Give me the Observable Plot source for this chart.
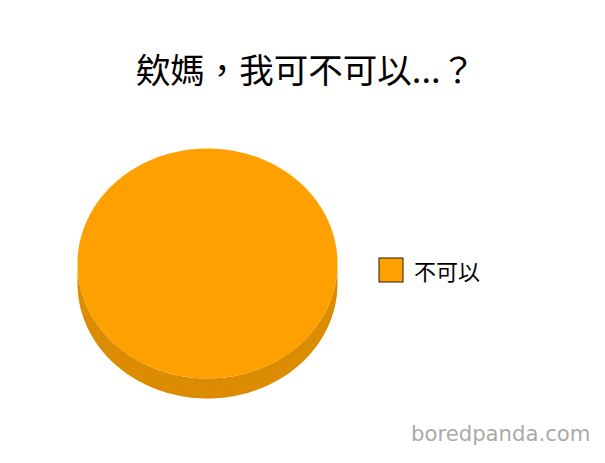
<!DOCTYPE html>
<html>
<head>
<meta charset="utf-8">
<script src="https://cdn.jsdelivr.net/npm/d3@7"></script>
<script src="https://cdn.jsdelivr.net/npm/@observablehq/plot@0.6"></script>
<style>
  html, body { margin: 0; padding: 0; background: #fff; }
  body { width: 605px; height: 463px; position: relative; overflow: hidden; }
  #title { height: 100px; position: relative; }
  #title span { position: absolute; left: 0; right: 0; top: 48px; text-align: center;
    font-family: "Noto Sans CJK TC", sans-serif; font-size: 34.5px; line-height: 40px; color: #000; padding-left: 6px; }
  #chart svg { display: block; }
  #legend { position: absolute; left: 379px; top: 253px; }
  #legend svg rect { stroke: #2b1d00; stroke-width: 1; }
  #legend div { margin: 0 !important; }
  #wm { position: absolute; left: 411px; top: 423px; font-family: "DejaVu Sans", sans-serif;
    font-size: 21.2px; line-height: 21px; color: #aaaaaa; }
</style>
</head>
<body>
<div id="title"><span>欸媽，我可不可以...？</span></div>
<div id="chart"></div>
<div id="legend"></div>
<div id="wm">boredpanda.com</div>
<script>
// Data
const labels = ["不可以"];
const values = [100];
const colors = ["#FEA100"];

// Build pie geometry (unit ellipse; scales place it on the page)
const depth = 0.174; // side thickness in unit y
const pie = d3.pie().sort(null)(values);
const topPts = [];
const sideMarks = [];
pie.forEach((s, i) => {
  const n = Math.max(2, Math.ceil((s.endAngle - s.startAngle) / (Math.PI / 180)));
  const full = (s.endAngle - s.startAngle) >= 2 * Math.PI - 1e-9;
  if (!full) topPts.push({label: labels[i], x: 0, y: 0});
  for (let k = 0; k <= n; k++) {
    const a = s.startAngle + (s.endAngle - s.startAngle) * k / n;
    topPts.push({label: labels[i], x: Math.sin(a), y: -Math.cos(a)});
  }
  // visible side: angles between 90° and 270°
  const a0 = Math.max(s.startAngle, Math.PI / 2), a1 = Math.min(s.endAngle, 3 * Math.PI / 2);
  if (a1 > a0) {
    const m = Math.max(2, Math.ceil((a1 - a0) / (Math.PI / 180)));
    const upper = [], lower = [];
    for (let k = 0; k <= m; k++) {
      const a = a0 + (a1 - a0) * k / m;
      upper.push({x: Math.sin(a), y: -Math.cos(a)});
      lower.push({x: Math.sin(a), y: -Math.cos(a) + depth});
    }
    const poly = upper.concat(lower.reverse());
    sideMarks.push(Plot.line(poly, {x: "x", y: "y", fill: d3.color(colors[i]).darker(0.4).formatHex(), stroke: "none"}));
  }
});

const chart = Plot.plot({
  width: 605,
  height: 363,
  margin: 0,
  x: {domain: [-1, 1], range: [77, 337], axis: null},
  y: {domain: [-1, 1], range: [48, 278], axis: null},
  color: {domain: labels, range: colors},
  marks: [
    ...sideMarks,
    Plot.line(topPts, {x: "x", y: "y", z: "label", fill: "label", stroke: "none"})
  ]
});
document.getElementById("chart").append(chart);

const leg = chart.legend("color", {
  swatchSize: 24,
  style: {fontFamily: "'Noto Sans CJK TC', sans-serif", fontSize: "22px", color: "#000", margin: 0}
});
document.getElementById("legend").append(leg);
</script>
</body>
</html>
